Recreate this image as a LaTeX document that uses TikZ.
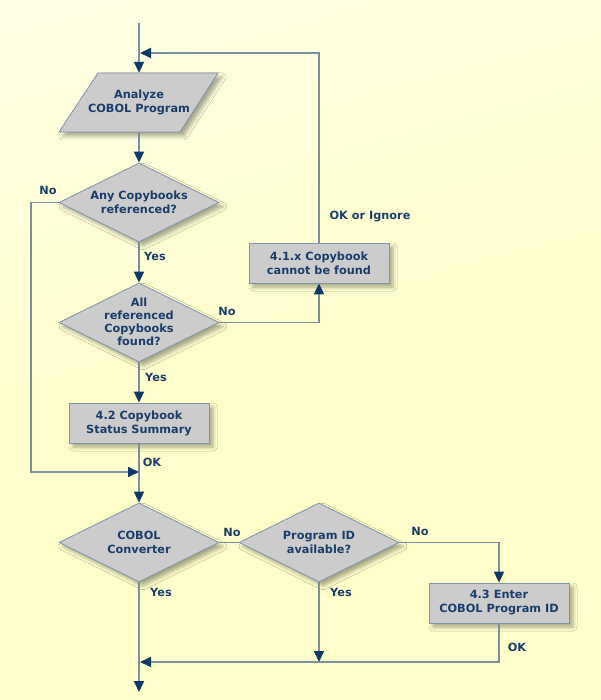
\documentclass[tikz,border=0pt]{standalone}
\usepackage{fontspec}
\setmainfont{DejaVu Sans}
\usetikzlibrary{arrows.meta,shapes.geometric,shadows.blur}
\definecolor{bgy}{HTML}{FFFFCC}
\definecolor{navy}{HTML}{0F3866}
\definecolor{txt}{HTML}{1B3D6B}
\definecolor{lin}{HTML}{7A8FA0}
\definecolor{nfill}{HTML}{CCCCCC}
\definecolor{nbord}{HTML}{7F93A6}
\pgfdeclareverticalshading{bgshade}{100bp}{color(0bp)=(bgy); color(50bp)=(bgy); color(100bp)=(white)}
\tikzset{
  every node/.style={font=\fontsize{11.3}{14}\selectfont\bfseries, text=txt},
  shd/.style={blur shadow={shadow xshift=4pt,shadow yshift=-4pt,shadow opacity=35,shadow blur radius=4pt}},
  dia/.style={diamond, shd, fill=nfill, draw=nbord, line width=0.8pt, minimum width=160pt, minimum height=79pt, inner sep=0pt, aspect=2},
  stepbox/.style={rectangle, shd, fill=nfill, draw=nbord, line width=0.8pt, minimum width=140pt, minimum height=40pt, inner sep=0pt, align=center},
  ctext/.style={align=center, inner sep=0pt},
  ln/.style={draw=lin, line width=1.8pt},
  arr/.style={ln, -{Triangle[width=10pt,length=11pt,color=navy]}},
  lbl/.style={inner sep=0pt},
}
\begin{document}
\begin{tikzpicture}[x=1pt,y=-1pt]
\useasboundingbox (0,0) rectangle (600,700);
\shade[shading=bgshade, shading angle=15] (-60,-60) rectangle (660,760);
\path[use as bounding box] (0,0) rectangle (600,700);

% parallelogram
\path[shd, fill=nfill, draw=nbord, line width=0.8pt] (98,73) -- (218,73) -- (180,132) -- (59,132) -- cycle;
\node[ctext, minimum width=120pt, minimum height=59pt] (analyze) at (139,102.5) {Analyze\\COBOL Program};

\node[dia] (q1) at (139,202.5) {};
\node[ctext] (q1t) at (139,202.5) {Any Copybooks\\referenced?};
\node[dia] (q2) at (139,322.5) {};
\node[ctext, font=\fontsize{11.3}{13}\selectfont\bfseries] (q2t) at (139,321.5) {All\\referenced\\Copybooks\\found?};
\node[stepbox] (b41) at (319,263) {4.1.x Copybook\\cannot be found};
\node[stepbox] (b42) at (139,423) {4.2 Copybook\\Status Summary};
\node[dia] (q3) at (139,542.5) {};
\node[ctext] (q3t) at (139,542.5) {COBOL\\Converter};
\node[dia] (q4) at (319,542.5) {};
\node[ctext] (q4t) at (319,542.5) {Program ID\\available?};
\node[stepbox] (b43) at (499,603) {4.3 Enter\\COBOL Program ID};

\coordinate (start) at (139,23);
\coordinate (loopA) at (140,53);
\coordinate (mergeA) at (139,472);
\coordinate (mergeB) at (319,662);
\coordinate (mergeC) at (140,662);
\coordinate (endpt) at (139,692);

\draw[arr] (start) -- (analyze.north);
\draw[arr] (analyze.south) -- (q1.north);
\draw[arr] (q1.south) -- (q2.north);
\draw[arr] (q1.west) -- ++(-28,0) |- (mergeA);
\draw[arr] (q2.east) -| (b41.south);
\draw[arr] (b41.north) |- (loopA);
\draw[arr] (q2.south) -- (b42.north);
\draw[arr] (b42.south) -- (q3.north);
\draw[ln] (q3.east) -- (q4.west);
\draw[arr] (q4.east) -| (b43.north);
\draw[arr] (q4.south) -- (mergeB);
\draw[arr] (b43.south) |- (mergeC);
\draw[arr] (q3.south) -- (endpt);

\node[lbl] (l1) at (48,190) {No};
\node[lbl] (l2) at (155,256) {Yes};
\node[lbl] (l3) at (227,311) {No};
\node[lbl] (l4) at (370,217) {OK or Ignore};
\node[lbl] (l5) at (156,377) {Yes};
\node[lbl] (l6) at (152,462) {OK};
\node[lbl] (l7) at (232,532) {No};
\node[lbl] (l8) at (420,531) {No};
\node[lbl] (l9) at (161,592) {Yes};
\node[lbl] (l10) at (341,592) {Yes};
\node[lbl] (l11) at (517,647) {OK};
\end{tikzpicture}
\end{document}
